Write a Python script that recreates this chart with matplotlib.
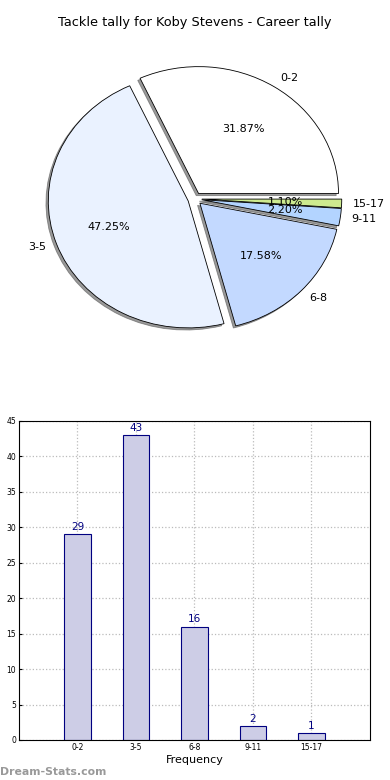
import matplotlib
matplotlib.use("Agg")
import matplotlib.pyplot as plt

categories = ["0-2", "3-5", "6-8", "9-11", "15-17"]
counts = [29, 43, 16, 2, 1]
pie_colors = ["#ffffff", "#eaf2ff", "#c3d9ff", "#b3d4ff", "#cdea8f"]
title = "Tackle tally for Koby Stevens - Career tally"
yticks = list(range(0, 50, 5))

fig = plt.figure(figsize=(3.9, 7.8), dpi=100)

# Pie chart
ax1 = fig.add_axes([0.051, 0.5417, 0.897, 0.4067])
wedges, texts, autotexts = ax1.pie(
    counts, labels=categories, colors=pie_colors, explode=[0.05] * len(counts),
    autopct="%1.2f%%", shadow={"ox": -0.012, "oy": -0.012, "color": "#555555", "alpha": 0.6},
    startangle=0, labeldistance=1.08,
    wedgeprops=dict(edgecolor="black", linewidth=0.6),
    textprops=dict(fontsize=8))
ax1.set_aspect("auto")
ax1.set_xlim(-1.25, 1.25)
ax1.set_ylim(-1.25, 1.25)
ax1.set_title(title, fontsize=9.3, pad=10)

# Bar chart
ax2 = fig.add_axes([0.0487, 0.0513, 0.9, 0.409])
x = list(range(len(categories)))
bars = ax2.bar(x, counts, width=0.45, color="#cdcde6", edgecolor="#000080", linewidth=0.8, zorder=2)
for xi, c in zip(x, counts):
    ax2.text(xi, c + 0.3, str(c), ha="center", va="bottom", fontsize=7.5, color="#000080")
ax2.set_xlim(-1, 5)
ax2.set_ylim(0, 45)
ax2.set_xticks(x)
ax2.set_xticklabels(categories, fontsize=5.5)
ax2.set_yticks(yticks)
ax2.set_yticklabels([str(v) for v in yticks], fontsize=5.5)
ax2.tick_params(length=2, direction="in", pad=2)
ax2.grid(True, linestyle=":", color="#bbbbbb", linewidth=0.9, zorder=0)
ax2.set_axisbelow(True)
ax2.set_xlabel("Frequency", fontsize=8, labelpad=2)

fig.text(0.0, 0.004, "Dream-Stats.com", fontsize=7.8, color="#999999", fontweight="bold", ha="left", va="bottom")

fig.savefig("out.png", dpi=100)
